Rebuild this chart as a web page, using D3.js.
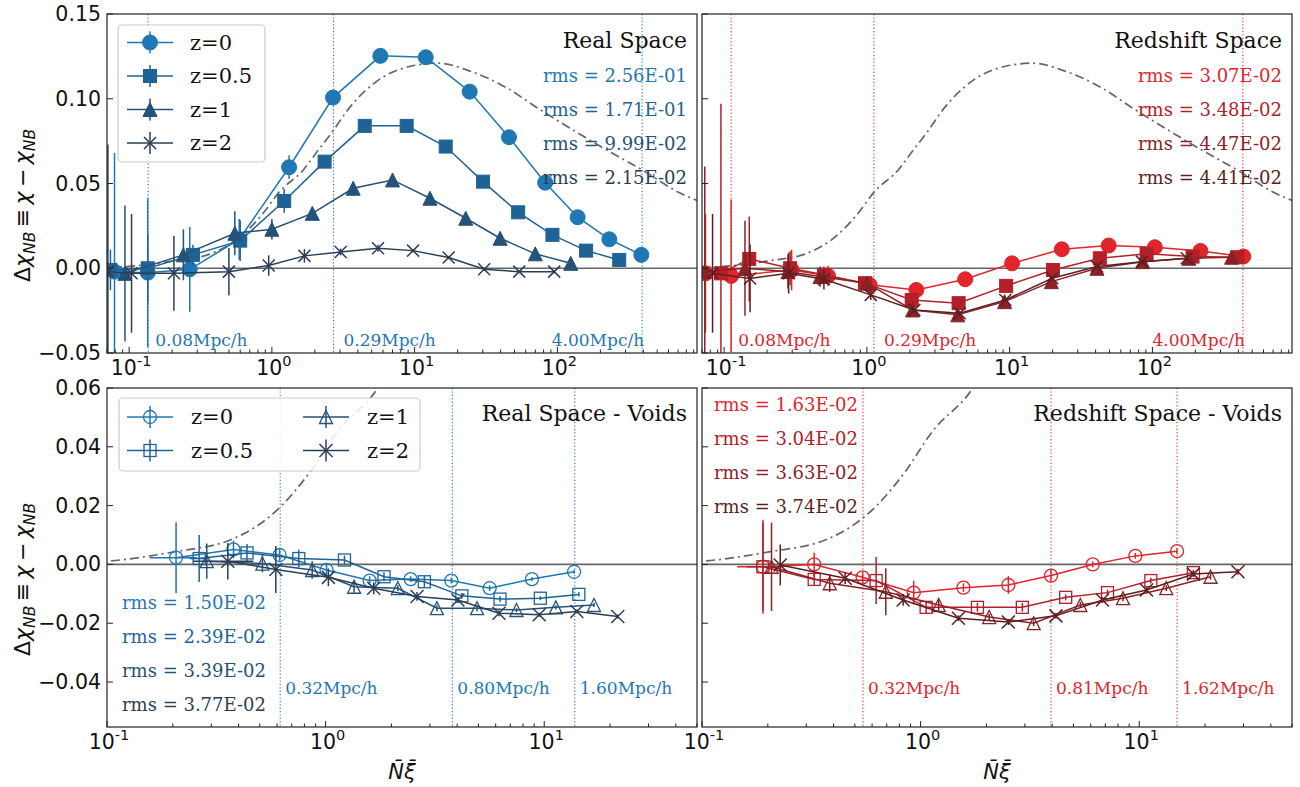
<!DOCTYPE html>
<html><head><meta charset="utf-8">
<script src="https://cdn.jsdelivr.net/npm/d3@7"></script>
<style>body{margin:0;background:#fff}svg{display:block}</style>
</head><body><svg id="c" width="1300" height="787" font-family="DejaVu Serif, serif"></svg>
<script>
// ---------------- DATA ----------------
const zLabels = ["z=0", "z=0.5", "z=1", "z=2"];
const blueColors = ["#1f77b4", "#1f6396", "#245279", "#2a3f56"];
const redColors = ["#e0262b", "#b3202a", "#8a2227", "#5e1f22"];
const markerTypes = ["circle", "square", "triangle", "x"];

// Real Space: [Nxi, delta, err]
const realZ0 = [[0.079,-0.002,0.07],[0.135,-0.0026,0.044],[0.266,-0.0006,0.025],[0.59,0.017,0.012],[1.32,0.0596,0.007],[2.68,0.1007,0.003],[5.75,0.1253,0.002],[11.96,0.1245,0.002],[24.3,0.1042,0.001],[45.8,0.0773,0.001],[82.1,0.0505,0.001],[138.6,0.0301,0.001],[231,0.0171,0.001],[387,0.0079,0.001]];
const realZ05 = [[0.074,-0.001,0.012],[0.135,0.0,0.02],[0.28,0.0079,0.006],[0.60,0.0163,0.012],[1.22,0.0397,0.007],[2.34,0.0629,0.003],[4.47,0.0840,0.002],[8.79,0.0840,0.002],[16.5,0.0718,0.001],[30.1,0.0511,0.001],[53.1,0.0330,0.001],[92.3,0.0197,0.001],[158.8,0.0104,0.001],[271,0.0049,0.001]];
const realZ1 = [[0.0935,-0.003,0.04],[0.24,0.0079,0.015],[0.55,0.0206,0.013],[1.0,0.0230,0.006],[1.92,0.0324,0.003],[3.71,0.0472,0.002],[7.0,0.0521,0.002],[12.8,0.0413,0.001],[22.8,0.0295,0.001],[39.7,0.0177,0.001],[70,0.0085,0.001],[124,0.0029,0.001]];
const realZ2 = [[0.071,-0.002,0.075],[0.104,-0.003,0.035],[0.206,-0.003,0.022],[0.50,-0.002,0.014],[0.95,0.0016,0.006],[1.69,0.0073,0.004],[3.03,0.0096,0.002],[5.54,0.0118,0.002],[9.75,0.0104,0.001],[17.3,0.0063,0.001],[30.7,-0.0006,0.001],[54,-0.0020,0.001],[95,-0.0020,0.001]];

// Redshift Space
const redZ0 = [[0.074,-0.003,0.035],[0.112,-0.0045,0.045],[0.297,-0.001,0.012],[0.534,-0.0045,0.006],[1.045,-0.0098,0.003],[2.22,-0.0128,0.002],[4.88,-0.0065,0.001],[10.4,0.0029,0.001],[23.2,0.0112,0.001],[49.4,0.0134,0.001],[104,0.0124,0.001],[217,0.0102,0.001],[433,0.0069,0.001]];
const redZ05 = [[0.095,-0.003,0.10],[0.15,0.0055,0.025],[0.29,0.0,0.01],[0.50,-0.0039,0.005],[0.97,-0.0088,0.003],[2.06,-0.0187,0.002],[4.39,-0.0206,0.001],[9.45,-0.0104,0.001],[20.1,-0.001,0.001],[42.8,0.0059,0.001],[91,0.0085,0.001],[191,0.0069,0.001],[394,0.0065,0.001]];
const redZ1 = [[0.0732,-0.002,0.062],[0.14,0.0,0.028],[0.28,-0.002,0.01],[0.47,-0.0049,0.006],[1.0,-0.0088,0.003],[2.09,-0.0246,0.002],[4.33,-0.0275,0.001],[9.21,-0.0197,0.001],[19.6,-0.0079,0.001],[40.9,0.0,0.001],[85.5,0.0039,0.001],[180,0.0059,0.001],[359,0.0065,0.001]];
const redZ2 = [[0.083,-0.003,0.035],[0.152,-0.006,0.02],[0.283,-0.0029,0.012],[0.50,-0.0065,0.006],[1.065,-0.0157,0.003],[2.15,-0.0246,0.002],[4.47,-0.0266,0.001],[9.33,-0.0187,0.001],[19.9,-0.0059,0.001],[40.9,0.0010,0.001],[84.4,0.0039,0.001],[174,0.0059,0.001]];

// Real Space - Voids: [Nxi, delta, err, xerr]
const vRealZ0 = [[0.207,0.0023,0.012,0.05],[0.379,0.0051,0.003],[0.616,0.0032,0.002],[1.01,-0.0019,0.002],[1.59,-0.0055,0.0015],[2.45,-0.0050,0.001],[3.76,-0.0055,0.001],[5.63,-0.0081,0.001],[8.79,-0.0050,0.0007],[13.7,-0.0025,0.0007]];
const vRealZ05 = [[0.264,0.0020,0.008,0.025],[0.437,0.0039,0.003],[0.754,0.0020,0.003],[1.22,0.0015,0.0015],[1.85,-0.0042,0.0015],[2.83,-0.0059,0.002],[4.20,-0.0107,0.001],[6.28,-0.0118,0.001],[9.6,-0.0115,0.0007],[14.4,-0.0102,0.0007]];
const vRealZ1 = [[0.286,0.0011,0.006],[0.514,0.0003,0.003],[0.868,-0.0019,0.003],[1.35,-0.0076,0.002],[2.14,-0.0081,0.001],[3.23,-0.0149,0.001],[4.93,-0.0149,0.001],[7.47,-0.0155,0.0007],[11.3,-0.0146,0.0007],[16.9,-0.0138,0.0007]];
const vRealZ2 = [[0.357,0.0011,0.0062,0.11],[0.592,-0.0017,0.008],[1.03,-0.0044,0.003],[1.66,-0.0081,0.002],[2.62,-0.0109,0.0015],[4.03,-0.0121,0.001],[6.21,-0.0166,0.001],[9.49,-0.0171,0.0007],[14.1,-0.0160,0.0007],[21.7,-0.0177,0.0007]];

// Redshift Space - Voids
const vRedZ0 = [[0.190,-0.0008,0.016,0.045],[0.326,0.0,0.004],[0.543,-0.0044,0.002],[0.93,-0.0096,0.004],[1.57,-0.0079,0.0015],[2.52,-0.0070,0.003],[3.95,-0.0038,0.002],[6.13,0.0,0.001],[9.6,0.0029,0.001],[14.9,0.0045,0.001]];
const vRedZ05 = [[0.190,-0.0008,0.015,0.03],[0.326,-0.0051,0.002],[0.626,-0.0055,0.008],[1.06,-0.0146,0.002],[1.82,-0.0146,0.0015],[2.92,-0.0146,0.0015],[4.61,-0.0112,0.001],[7.16,-0.0096,0.001],[11.3,-0.0055,0.001],[17.7,-0.0028,0.001]];
const vRedZ1 = [[0.208,-0.0008,0.015],[0.384,-0.0064,0.003],[0.693,-0.0093,0.008],[1.21,-0.0138,0.002],[2.06,-0.0179,0.001],[3.29,-0.0200,0.001],[5.38,-0.0138,0.001],[8.43,-0.0115,0.001],[13.3,-0.0081,0.001],[21.2,-0.0042,0.001]];
const vRedZ2 = [[0.228,-0.0002,0.007],[0.452,-0.0047,0.002],[0.832,-0.0121,0.002],[1.49,-0.0183,0.001],[2.52,-0.0196,0.001],[4.16,-0.0175,0.001],[6.79,-0.0121,0.001],[10.8,-0.0087,0.001],[17.7,-0.0033,0.001],[28.3,-0.0025,0.001]];

// reference (dash-dot) curve
const refCurve = [[0.07,0.0006],[0.1,0.0011],[0.2,0.0042],[0.38,0.0088],[0.62,0.0195],[0.84,0.031],[1.14,0.0455],[1.66,0.058],[2.04,0.068],[2.68,0.081],[3.37,0.093],[5.57,0.111],[9.2,0.119],[14.5,0.121],[25,0.116],[43,0.107],[73,0.0944],[193,0.0727],[410,0.057],[698,0.045],[950,0.040]];

const realRms = ["rms = 2.56E-01","rms = 1.71E-01","rms = 9.99E-02","rms = 2.15E-02"];
const redRms = ["rms = 3.07E-02","rms = 3.48E-02","rms = 4.47E-02","rms = 4.41E-02"];
const vRealRms = ["rms = 1.50E-02","rms = 2.39E-02","rms = 3.39E-02","rms = 3.77E-02"];
const vRedRms = ["rms = 1.63E-02","rms = 3.04E-02","rms = 3.63E-02","rms = 3.74E-02"];

const realCuts = [0.136, 2.7, 392];
const redCuts = [0.112, 1.12, 430];
const topCutLabels = ["0.08Mpc/h","0.29Mpc/h","4.00Mpc/h"];
const vRealCuts = [0.62, 3.8, 13.8];
const vRealCutLabels = ["0.32Mpc/h","0.80Mpc/h","1.60Mpc/h"];
const vRedCuts = [0.545, 3.95, 14.9];
const vRedCutLabels = ["0.32Mpc/h","0.81Mpc/h","1.62Mpc/h"];

const topYTicks = [-0.05, 0.00, 0.05, 0.10, 0.15];
const botYTicks = [-0.04, -0.02, 0.00, 0.02, 0.04, 0.06];

// ---------------- DRAW ----------------
const SERIF = "DejaVu Serif, serif";
const SANS = "DejaVu Sans, sans-serif";
const svg = d3.select("#c");

const panels = [
  {id:"tl", box:[107,14,697,353], xdom:[0.07,950], ydom:[-0.05,0.15], series:[realZ0,realZ05,realZ1,realZ2], colors:blueColors, open:false,
   title:"Real Space", rms:realRms, rmsPos:"right", cuts:realCuts, cutLabels:topCutLabels, cutMode:"top", yTicks:topYTicks, yLabels:true, legend:"col"},
  {id:"tr", box:[702,14,1292,353], xdom:[0.07,950], ydom:[-0.05,0.15], series:[redZ0,redZ05,redZ1,redZ2], colors:redColors, open:false,
   title:"Redshift Space", rms:redRms, rmsPos:"right", cuts:redCuts, cutLabels:topCutLabels, cutMode:"top", yTicks:topYTicks, yLabels:false},
  {id:"bl", box:[107,388,697,727], xdom:[0.1,50], ydom:[-0.0553,0.06], series:[vRealZ0,vRealZ05,vRealZ1,vRealZ2], colors:blueColors, open:true,
   title:"Real Space - Voids", rms:vRealRms, rmsPos:"bottomleft", cuts:vRealCuts, cutLabels:vRealCutLabels, cutMode:"bottom", yTicks:botYTicks, yLabels:true, legend:"grid", xlabel:true},
  {id:"br", box:[702,388,1292,727], xdom:[0.1,50], ydom:[-0.0553,0.06], series:[vRedZ0,vRedZ05,vRedZ1,vRedZ2], colors:redColors, open:true,
   title:"Redshift Space - Voids", rms:vRedRms, rmsPos:"topleft", cuts:vRedCuts, cutLabels:vRedCutLabels, cutMode:"bottom", yTicks:botYTicks, yLabels:false, xlabel:true}
];

function drawMarker(g, type, cx, cy, color, open, big) {
  const sw = open ? 1.3 : 1;
  const fill = open ? "none" : color;
  if (type === "circle") {
    const r = big ? 7.5 : 6.5;
    g.append("circle").attr("cx",cx).attr("cy",cy).attr("r",r).attr("fill",fill).attr("stroke",color).attr("stroke-width",sw);
  } else if (type === "square") {
    const s = big ? 13 : 12;
    g.append("rect").attr("x",cx-s/2).attr("y",cy-s/2).attr("width",s).attr("height",s).attr("fill",fill).attr("stroke",color).attr("stroke-width",sw);
  } else if (type === "triangle") {
    const s = big ? 14 : 13;
    g.append("path").attr("d",`M${cx},${cy-s/2}L${cx+s/2},${cy+s/2}L${cx-s/2},${cy+s/2}Z`).attr("fill",fill).attr("stroke",color).attr("stroke-width",sw);
  } else {
    const s = big ? 12 : 13;
    g.append("path").attr("d",`M${cx-s/2},${cy-s/2}L${cx+s/2},${cy+s/2}M${cx-s/2},${cy+s/2}L${cx+s/2},${cy-s/2}`).attr("fill","none").attr("stroke",color).attr("stroke-width",1.5);
  }
}

panels.forEach((p, pi) => {
  const [x0,y0,x1,y1] = p.box;
  const x = d3.scaleLog().domain(p.xdom).range([x0,x1]);
  const y = d3.scaleLinear().domain(p.ydom).range([y1,y0]);
  const clipId = "clip-"+p.id;
  svg.append("clipPath").attr("id",clipId).append("rect").attr("x",x0).attr("y",y0).attr("width",x1-x0).attr("height",y1-y0);
  const g = svg.append("g").attr("clip-path",`url(#${clipId})`);

  const cutColor = p.colors[0];
  p.cuts.forEach(c => {
    g.append("line").attr("x1",x(c)).attr("x2",x(c)).attr("y1",y0).attr("y2",y1)
      .attr("stroke",cutColor).attr("stroke-width",1.1).attr("stroke-dasharray","1.2,2.2");
  });
  g.append("path").datum(refCurve)
    .attr("d", d3.line().x(d=>x(d[0])).y(d=>y(d[1])).curve(d3.curveMonotoneX))
    .attr("fill","none").attr("stroke","#666").attr("stroke-width",1.7).attr("stroke-dasharray","9,4,2,4");
  g.append("line").attr("x1",x0).attr("x2",x1).attr("y1",y(0)).attr("y2",y(0)).attr("stroke","#666").attr("stroke-width",1.7);

  p.series.forEach((s, si) => {
    const col = p.colors[si];
    const sg = g.append("g");
    s.forEach(d => {
      sg.append("line").attr("x1",x(d[0])).attr("x2",x(d[0])).attr("y1",y(d[1]-d[2])).attr("y2",y(d[1]+d[2]))
        .attr("stroke",col).attr("stroke-width",1.5);
      if (d[3]) {
        sg.append("line").attr("x1",x(Math.max(d[0]-d[3],1e-3))).attr("x2",x(d[0]+d[3])).attr("y1",y(d[1])).attr("y2",y(d[1]))
          .attr("stroke",col).attr("stroke-width",1.5);
      }
    });
    sg.append("path").datum(s).attr("d", d3.line().x(d=>x(d[0])).y(d=>y(d[1])))
      .attr("fill","none").attr("stroke",col).attr("stroke-width",1.5);
    s.forEach(d => drawMarker(sg, markerTypes[si], x(d[0]), y(d[1]), col, p.open, !p.open));
  });

  p.cuts.forEach((c, ci) => {
    let tx, anchor = "start";
    if (p.cutMode === "top") {
      if (ci < 2) { tx = x(c) + (ci === 0 ? 7 : 10); } else { tx = x(c) + 2; anchor = "end"; }
    } else { tx = x(c) + 5; }
    svg.append("text").attr("x",tx).attr("y", p.cutMode === "top" ? y1-13 : y1-39).attr("dominant-baseline","central")
      .attr("font-family",SERIF).attr("text-anchor",anchor).attr("font-size",17).attr("fill",cutColor).text(p.cutLabels[ci]);
  });

  svg.append("text").attr("x",x1-10).attr("y", y0 + (pi<2 ? 26 : 25)).attr("dominant-baseline","central")
    .attr("font-family",SERIF).attr("text-anchor","end").attr("font-size",22).attr("fill","#111").text(p.title);

  p.rms.forEach((t, i) => {
    let tx, ty, anchor;
    if (p.rmsPos === "right") { tx = x1-10; ty = y0+61+i*34.3; anchor="end"; }
    else if (p.rmsPos === "bottomleft") { tx = x0+15; ty = y0+214+i*34; anchor="start"; }
    else { tx = x0+12; ty = y0+16+i*34.3; anchor="start"; }
    svg.append("text").attr("x",tx).attr("y",ty).attr("dominant-baseline","central").attr("text-anchor",anchor)
      .attr("font-family",SERIF).attr("font-size",18).attr("fill",p.colors[i]).text(t);
  });

  if (p.legend === "col") {
    const lg = svg.append("g");
    lg.append("rect").attr("x",118).attr("y",25).attr("width",147).attr("height",137).attr("rx",4)
      .attr("fill","#fff").attr("fill-opacity",0.85).attr("stroke","#cccccc").attr("stroke-width",1.2);
    zLabels.forEach((lab, i) => {
      const cy = 42.5 + i*33.5, col = p.colors[i];
      lg.append("line").attr("x1",127).attr("x2",173).attr("y1",cy).attr("y2",cy).attr("stroke",col).attr("stroke-width",1.5);
      lg.append("line").attr("x1",150).attr("x2",150).attr("y1",cy-11).attr("y2",cy+11).attr("stroke",col).attr("stroke-width",1.5);
      drawMarker(lg, markerTypes[i], 150, cy, col, false, true);
      lg.append("text").attr("x",190).attr("y",cy).attr("dominant-baseline","central").attr("font-family",SERIF)
        .attr("font-size",21).attr("fill","#111").text(lab);
    });
  } else if (p.legend === "grid") {
    const lg = svg.append("g");
    lg.append("rect").attr("x",119).attr("y",398).attr("width",301).attr("height",73).attr("rx",4)
      .attr("fill","#fff").attr("fill-opacity",0.85).attr("stroke","#cccccc").attr("stroke-width",1.2);
    zLabels.forEach((lab, i) => {
      const colIdx = Math.floor(i/2), row = i%2;
      const mx = colIdx === 0 ? 150 : 326, tx = colIdx === 0 ? 191 : 367;
      const cy = 417 + row*33.5, col = p.colors[i];
      lg.append("line").attr("x1",mx-23).attr("x2",mx+23).attr("y1",cy).attr("y2",cy).attr("stroke",col).attr("stroke-width",1.5);
      lg.append("line").attr("x1",mx).attr("x2",mx).attr("y1",cy-11).attr("y2",cy+11).attr("stroke",col).attr("stroke-width",1.5);
      drawMarker(lg, markerTypes[i], mx, cy, col, true, false);
      lg.append("text").attr("x",tx).attr("y",cy).attr("dominant-baseline","central").attr("font-family",SERIF)
        .attr("font-size",21).attr("fill","#111").text(lab);
    });
  }

  svg.append("rect").attr("x",x0).attr("y",y0).attr("width",x1-x0).attr("height",y1-y0)
    .attr("fill","none").attr("stroke","#222").attr("stroke-width",1.2);
  const ax = svg.append("g").attr("stroke","#222").attr("stroke-width",1);
  const lo = Math.floor(Math.log10(p.xdom[0])), hi = Math.ceil(Math.log10(p.xdom[1]));
  for (let e = lo; e <= hi; e++) {
    for (let k = 1; k <= 9; k++) {
      const v = k*Math.pow(10,e);
      if (v < p.xdom[0]*0.999 || v > p.xdom[1]*1.001) continue;
      const px = x(v), len = k===1 ? 6 : 3.5;
      ax.append("line").attr("x1",px).attr("x2",px).attr("y1",y1).attr("y2",y1-len);
      if (k === 1) {
        const t = svg.append("text").attr("x",px+2).attr("y",y1+22).attr("text-anchor","middle").attr("font-family",SANS)
          .attr("font-size",20.5).attr("fill","#111");
        t.append("tspan").text("10");
        t.append("tspan").attr("dy",-9).attr("font-size",14.5).text(String(e));
      }
    }
  }
  p.yTicks.forEach(v => {
    const py = y(v);
    ax.append("line").attr("x1",x0).attr("x2",x0+6).attr("y1",py).attr("y2",py);
    if (p.yLabels) {
      svg.append("text").attr("x",x0-6).attr("y",py).attr("dominant-baseline","central").attr("text-anchor","end")
        .attr("font-family",SANS).attr("font-size",20.5).attr("fill","#111").text(d3.format(".2f")(v).replace("-","\u2212"));
    }
  });
  if (p.yLabels) {
    const cy = (y0+y1)/2 + 22;
    const t = svg.append("text").attr("transform",`translate(30,${cy}) rotate(-90)`).attr("text-anchor","middle")
      .attr("font-family",SANS).attr("font-size",22).attr("fill","#111");
    t.append("tspan").text("\u0394");
    t.append("tspan").attr("font-style","italic").text("\u03C7");
    t.append("tspan").attr("font-style","italic").attr("font-size",15.5).attr("dy",5).text("NB");
    t.append("tspan").attr("dy",-5).text("\u2009\u2261\u2009");
    t.append("tspan").attr("font-style","italic").text("\u03C7");
    t.append("tspan").text("\u2009\u2212\u2009");
    t.append("tspan").attr("font-style","italic").text("\u03C7");
    t.append("tspan").attr("font-style","italic").attr("font-size",15.5).attr("dy",5).text("NB");
  }
  if (p.xlabel) {
    svg.append("text").attr("x",(x0+x1)/2).attr("y",772).attr("text-anchor","middle").attr("dominant-baseline","central")
      .attr("font-family",SANS).attr("font-size",21).attr("font-style","italic").attr("fill","#111").text("N\u0304\u03BE\u0304");
  }
});
</script></body></html>
